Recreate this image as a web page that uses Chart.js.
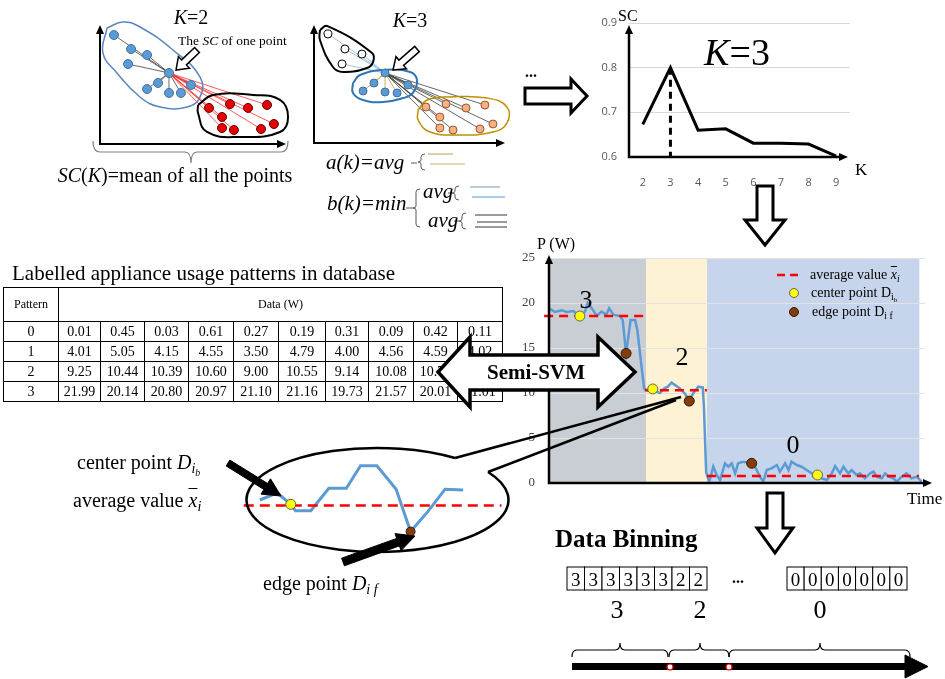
<!DOCTYPE html>
<html>
<head>
<meta charset="utf-8">
<script src="https://cdn.jsdelivr.net/npm/chart.js@4.4.1/dist/chart.umd.min.js"></script>
<style>
body{margin:0;background:#fff;}
#stage{position:relative;width:945px;height:679px;overflow:hidden;font-family:'Liberation Serif',serif;color:#000;background:#fff;}
canvas{position:absolute;}
.t{position:absolute;white-space:nowrap;line-height:1;}
.t sub{font-size:70%;vertical-align:-0.3em;line-height:0;}
.ov{text-decoration:overline;text-decoration-thickness:1px;text-underline-offset:0;}
table{position:absolute;border-collapse:collapse;table-layout:fixed;font-family:'Liberation Serif',serif;font-size:14px;}
td{border:1px solid #000;text-align:center;padding:0;}
svg{position:absolute;left:0;top:0;}
</style>
</head>
<body>
<div id="stage">
  <canvas id="k2" width="225" height="150" style="left:80px;top:5px"></canvas>
  <canvas id="k3" width="225" height="150" style="left:294px;top:5px"></canvas>
  <canvas id="sc" width="365" height="200" style="left:580px;top:0px"></canvas>
  <canvas id="pw" width="445" height="275" style="left:500px;top:235px"></canvas>
  <canvas id="inset" width="290" height="120" style="left:230px;top:440px"></canvas>
  <table id="tbl" style="left:3px;top:287px;width:499px"></table>
  <svg id="ov" width="945" height="679"></svg>
</div>
<script>
// ---- silhouette coefficient vs K
const scK = ['2', '3', '4', '5', '6', '7', '8', '9'];
const scValues = [0.673, 0.80, 0.66, 0.663, 0.631, 0.631, 0.629, 0.602];
const scBest = '3';

// ---- power trace (time in % of window, power in W)
const pTime = [0,1.6,3.4,4.7,6.5,8.2,9.6,10.3,11.4,12.7,14.0,15.2,16.0,17.1,18.9,19.6,20.5,21.7,22.9,23.5,
  24.7,25.3,26.4,27.6,28.6,29.5,30.6,31.6,32.6,33.8,34.8,36.2,37.3,38.4,39.7,40.9,41.2,41.8,42.6,43.7,
  44.6,45.5,46.8,47.7,48.6,49.5,50.3,51.7,53.9,54.8,56.1,57.0,57.9,59.2,60.6,61.4,62.8,63.7,64.5,65.9,
  67.2,68.5,69.9,71.4,72.5,73.9,75.2,76.1,77.4,78.3,79.6,80.5,81.8,82.7,84.0,85.4,86.3,87.2,88.5,89.4,
  90.3,91.6,92.5,93.8,95.1,96.4,97.8,99.1];
const pPower = [19.4,19.0,19.2,19.0,19.1,18.55,19.05,20.0,19.4,18.6,19.05,18.7,19.4,18.7,18.55,18.1,14.4,18.1,18.1,17.0,
  12.6,10.5,10.25,10.45,10.15,10.0,10.5,10.7,11.15,10.8,10.5,9.9,9.1,10.0,10.7,10.6,8.5,1.2,0.15,1.81,
  0.89,0.33,2.19,1.81,2.19,1.07,2.19,2.37,2.19,1.81,0.70,0.15,1.44,1.63,2.0,1.26,2.19,1.44,2.37,2.0,
  1.81,1.44,1.07,0.89,0.52,0.33,1.07,1.89,1.07,1.81,1.07,1.44,0.89,1.07,0.52,1.07,1.26,0.70,0.52,1.07,
  0.70,0.52,0.15,0.70,1.07,0.52,0.70,0.15];
const centerTime = [8.2, 27.6, 71.4];
const centerPower = [18.55, 10.45, 0.89];
const edgeTime = [20.5, 37.3, 53.9];
const edgePower = [14.4, 9.1, 2.19];
const avgStart = [-1.3, 25.5, 42.0];
const avgEnd = [25.3, 42.0, 98.4];
const avgLevel = [18.55, 10.3, 0.78];
const regionEdges = [0, 25.8, 42.0, 98.5];
const regionColors = ['#c9cdd4', '#fdf3d4', '#c6d5eb'];
const regionLabels = ['3', '2', '0'];

// ---- clustering sketches (arbitrary 0-100 units)
const k2BlueX = [7.5,16.7,25.3,15.1,37.1,31.2,25.3,37.1,43.5,48.9];
const k2BlueY = [91.6,79.8,74.8,67.2,59.7,51.3,46.2,42.9,42.9,49.6];
const k2RedX = [58.6,69.9,79.6,89.8,65.6,65.6,72.0,86.6,93.5];
const k2RedY = [30.3,33.6,30.3,32.8,22.7,13.4,11.8,12.6,16.8];
const k2BlueHullX = [3.8,12.4,21.5,39.2,53.8,53.8,46.8,32.3,21.5,9.1,1.6];
const k2BlueHullY = [97.5,102.5,98.3,79.0,56.3,39.5,31.1,31.1,39.5,59.7,76.5];
const k2RedHullX = [52.7,60.8,82.3,96.8,101.1,96.8,75.3,57.5,52.7];
const k2RedHullY = [32.8,41.2,41.2,37.0,22.7,10.1,5.9,10.1,26.1];

const k3WhiteX = [7.3,16.2,25.1,14.7];
const k3WhiteY = [92.4,79.7,75.4,67.0];
const k3BlueX = [37.2,31.4,25.7,37.2,43.5,49.2];
const k3BlueY = [59.3,50.8,44.1,43.2,42.4,49.2];
const k3OrangeX = [58.6,69.1,79.6,89.5,65.9,65.9,72.8,86.9,93.7];
const k3OrangeY = [30.5,33.1,29.7,32.2,22.0,12.7,11.0,11.9,16.1];
const k3WhiteHullX = [3.1,6.8,30.4,30.9,27.7,15.2,9.9,3.1];
const k3WhiteHullY = [95.8,99.2,76.3,68.6,63.6,60.2,64.4,87.3];
const k3BlueHullX = [20.4,24.1,36.1,50.3,53.9,51.8,46.6,36.1,25.7,20.4];
const k3BlueHullY = [50.8,57.6,61.9,60.2,53.4,42.4,38.1,34.7,36.4,42.4];
const k3OrangeHullX = [54.5,59.2,71.2,90.6,101,101,93.7,74.9,60.7,54.5];
const k3OrangeHullY = [28.0,36.4,39.0,38.1,30.5,16.9,9.3,6.8,9.3,19.5];

// ---- magnified piece of the trace
const insetX = [8.6,14.8,19.7,21.4,26.9,33.4,39.7,44.8,50.7,57.6,62.8,69,75.2,81.7];
const insetY = [50,56.7,46,40,40,60.8,60.8,81.7,81.7,60,20.8,39.2,60,59.2];
const insetAvg = 45;
const insetCenter = 2, insetEdge = 10;

// ---- table + binning
const tablePatterns = [0, 1, 2, 3];
const tableData = [
  [0.01,0.45,0.03,0.61,0.27,0.19,0.31,0.09,0.42,0.11],
  [4.01,5.05,4.15,4.55,3.50,4.79,4.00,4.56,4.59,4.02],
  [9.25,10.44,10.39,10.60,9.00,10.55,9.14,10.08,10.78,10.21],
  [21.99,20.14,20.80,20.97,21.10,21.16,19.73,21.57,20.01,21.01]];
const binsHead = [3,3,3,3,3,3,2,2];
const binsTail = [0,0,0,0,0,0,0];

const stage = document.getElementById('stage');
const zip = (xs, ys) => xs.map((x, i) => ({x: x, y: ys[i]}));
const loop = (xs, ys) => { const p = zip(xs, ys); p.push(p[0]); return p; };

// arrowed axes along the chart area
function axesPlugin(extTop, extRight, width) {
  return {
    id: 'axes',
    afterDraw(chart) {
      const a = chart.chartArea, c = chart.ctx;
      const top = a.top - extTop, right = a.right + extRight;
      c.save();
      c.strokeStyle = '#000'; c.fillStyle = '#000'; c.lineWidth = width;
      c.beginPath();
      c.moveTo(a.left, top + 6); c.lineTo(a.left, a.bottom); c.lineTo(right - 6, a.bottom);
      c.stroke();
      c.beginPath(); c.moveTo(a.left, top); c.lineTo(a.left - 4, top + 9); c.lineTo(a.left + 4, top + 9); c.fill();
      c.beginPath(); c.moveTo(right, a.bottom); c.lineTo(right - 9, a.bottom - 4); c.lineTo(right - 9, a.bottom + 4); c.fill();
      c.restore();
    }
  };
}

// lines from the chosen point to the others
function spokes(from, groups) {
  return {
    id: 'spokes',
    beforeDatasetsDraw(chart) {
      const xs = chart.scales.x, ys = chart.scales.y, c = chart.ctx;
      const fx = xs.getPixelForValue(from.x), fy = ys.getPixelForValue(from.y);
      c.save();
      groups.forEach(g => {
        c.strokeStyle = g.color; c.lineWidth = g.width;
        g.pts.forEach(p => {
          c.beginPath(); c.moveTo(fx, fy);
          c.lineTo(xs.getPixelForValue(p.x), ys.getPixelForValue(p.y)); c.stroke();
        });
      });
      c.restore();
    }
  };
}

function sketchScales() {
  return {
    x: {type: 'linear', min: 0, max: 100, display: false},
    y: {type: 'linear', min: 0, max: 100, display: false}
  };
}
function hull(pts, color, w) {
  return {type: 'line', data: pts, showLine: true, borderColor: color, borderWidth: w,
    pointRadius: 0, tension: 0.45, fill: false, clip: false};
}
function dots(pts, bg, border, r) {
  return {type: 'scatter', data: pts, backgroundColor: bg, borderColor: border,
    borderWidth: 1, pointRadius: r, clip: false};
}
const common = {responsive: false, animation: false, events: [],
  plugins: {legend: {display: false}, tooltip: {enabled: false}}};

// K = 2 sketch
const k2Blue = zip(k2BlueX, k2BlueY), k2Red = zip(k2RedX, k2RedY);
new Chart(document.getElementById('k2'), {
  type: 'scatter',
  data: {datasets: [
    dots(k2Blue, '#5b9bd5', '#41719c', 4.5),
    dots(k2Red, '#e60000', '#600000', 4.5),
    hull(loop(k2BlueHullX, k2BlueHullY), '#5a87c0', 1.5),
    hull(loop(k2RedHullX, k2RedHullY), '#000', 2)
  ]},
  options: Object.assign({}, common, {
    layout: {padding: {left: 20, top: 20, right: 19, bottom: 11}},
    scales: sketchScales()
  }),
  plugins: [axesPlugin(0, 0, 2), spokes(k2Blue[4], [
    {pts: k2Blue, color: '#404040', width: 0.8},
    {pts: k2Red, color: '#ff3030', width: 0.8}])]
});

// K = 3 sketch
const k3White = zip(k3WhiteX, k3WhiteY), k3Blue = zip(k3BlueX, k3BlueY), k3Orange = zip(k3OrangeX, k3OrangeY);
new Chart(document.getElementById('k3'), {
  type: 'scatter',
  data: {datasets: [
    dots(k3White, '#fff', '#000', 4),
    dots(k3Blue, '#5b9bd5', '#41719c', 4),
    dots(k3Orange, '#f4b183', '#a0522d', 4),
    hull(loop(k3WhiteHullX, k3WhiteHullY), '#000', 2),
    hull(loop(k3BlueHullX, k3BlueHullY), '#2e75b6', 2),
    hull(loop(k3OrangeHullX, k3OrangeHullY), '#bf9000', 1.5)
  ]},
  options: Object.assign({}, common, {
    layout: {padding: {left: 20, top: 20, right: 14, bottom: 12}},
    scales: sketchScales()
  }),
  plugins: [axesPlugin(0, 0, 2), spokes(k3Blue[0], [
    {pts: k3White, color: '#9dc3e6', width: 1},
    {pts: k3Blue, color: '#d0ae5a', width: 1},
    {pts: k3Orange, color: '#404040', width: 0.8}])]
});

// SC(K) curve
new Chart(document.getElementById('sc'), {
  type: 'line',
  data: {labels: scK, datasets: [
    {data: scValues, borderColor: '#000', borderWidth: 3, pointRadius: 0, tension: 0},
    {data: [{x: scBest, y: scValues[scK.indexOf(scBest)]}, {x: scBest, y: 0.6}],
     borderColor: '#000', borderWidth: 3, borderDash: [7, 5], pointRadius: 0}
  ]},
  options: Object.assign({}, common, {
    layout: {padding: {left: 0, top: 23, right: 95, bottom: 0}},
    scales: {
      x: {type: 'category', offset: true, grid: {display: false}, border: {display: false},
          afterFit: s => { s.height = 43; },
          ticks: {padding: 11, color: '#595959', font: {family: 'Open Sans', size: 11}}},
      y: {min: 0.6, max: 0.9, afterFit: s => { s.width = 49; },
          border: {display: false},
          grid: {drawTicks: false, color: c => c.tick && c.tick.value < 0.65 ? 'rgba(0,0,0,0)' : '#d9d9d9'},
          ticks: {stepSize: 0.1, padding: 12, color: '#595959', font: {family: 'Open Sans', size: 11},
                  callback: v => v.toFixed(1)}}
    }
  }),
  plugins: [axesPlugin(-2, -2, 2.5)]
});

// power trace with pattern regions
const regions = {
  id: 'regions',
  beforeDraw(chart) {
    const xs = chart.scales.x, ys = chart.scales.y, c = chart.ctx;
    c.save();
    regionColors.forEach((col, i) => {
      const l = xs.getPixelForValue(regionEdges[i]), r = xs.getPixelForValue(regionEdges[i + 1]);
      const t = ys.getPixelForValue(25), b = ys.getPixelForValue(0);
      c.fillStyle = col; c.fillRect(l, t, r - l, b - t);
    });
    c.restore();
  }
};
const avgSets = avgLevel.map((v, i) => ({
  data: [{x: avgStart[i], y: v}, {x: avgEnd[i], y: v}], borderColor: '#ff0000', borderWidth: 2.5,
  borderDash: [9, 6], pointRadius: 0, clip: false
}));
new Chart(document.getElementById('pw'), {
  type: 'line',
  data: {datasets: [
    {type: 'scatter', data: zip(centerTime, centerPower), backgroundColor: '#ffff00', borderColor: '#666',
     borderWidth: 1, pointRadius: 5},
    {type: 'scatter', data: zip(edgeTime, edgePower), backgroundColor: '#843c0c', borderColor: '#3a1a05',
     borderWidth: 1, pointRadius: 5},
    ...avgSets,
    {data: zip(pTime, pPower), borderColor: '#5b9bd5', borderWidth: 2.5, pointRadius: 0, tension: 0}
  ]},
  options: Object.assign({}, common, {
    layout: {padding: {left: 0, top: 23, right: 20, bottom: 27}},
    scales: {
      x: {type: 'linear', min: 0, max: 100, display: false},
      y: {min: 0, max: 25, afterFit: s => { s.width = 49; }, border: {display: false},
          grid: {drawTicks: false, color: '#e2e2e2'},
          ticks: {stepSize: 5, padding: 14, color: '#404040', font: {family: 'Liberation Serif', size: 13}}}
    }
  }),
  plugins: [regions, axesPlugin(3, 7, 2.5)]
});

// magnified trace inside the ellipse
new Chart(document.getElementById('inset'), {
  type: 'line',
  data: {datasets: [
    {type: 'scatter', data: [{x: insetX[insetCenter], y: insetY[insetCenter]}], backgroundColor: '#ffff00',
     borderColor: '#555', borderWidth: 1, pointRadius: 5},
    {type: 'scatter', data: [{x: insetX[insetEdge], y: insetY[insetEdge]}], backgroundColor: '#843c0c',
     borderColor: '#3a1a05', borderWidth: 1, pointRadius: 4.5},
    {data: [{x: 2.8, y: insetAvg}, {x: 95.5, y: insetAvg}], borderColor: '#ff0000', borderWidth: 2.5,
     borderDash: [10, 6], pointRadius: 0},
    {data: zip(insetX, insetY), borderColor: '#5b9bd5', borderWidth: 3, pointRadius: 0, tension: 0}
  ]},
  options: Object.assign({}, common, {scales: sketchScales()})
});

// table
const tbl = document.getElementById('tbl');
const colW = [55, 42, 44, 44, 45, 45, 47, 43, 45, 44, 45];
let html = '<colgroup>' + colW.map(w => `<col style="width:${w}px">`).join('') + '</colgroup>';
html += '<tr style="height:34px;font-size:12px"><td>Pattern</td><td colspan="10">Data (W)</td></tr>';
tablePatterns.forEach((p, i) => {
  html += `<tr style="height:20px"><td>${p}</td>` + tableData[i].map(v => `<td>${v.toFixed(2)}</td>`).join('') + '</tr>';
});
tbl.innerHTML = html;

// overlay shapes
const ov = document.getElementById('ov');
let svg = '';
function arrowPts(x0, y0, x1, y1, w, h, L) {
  const dx = x1 - x0, dy = y1 - y0, len = Math.hypot(dx, dy), ux = dx / len, uy = dy / len, nx = -uy, ny = ux;
  const bx = x1 - ux * L, by = y1 - uy * L;
  return [[x0 + nx * w, y0 + ny * w], [bx + nx * w, by + ny * w], [bx + nx * h, by + ny * h], [x1, y1],
    [bx - nx * h, by - ny * h], [bx - nx * w, by - ny * w], [x0 - nx * w, y0 - ny * w]];
}
function poly(pts, fill, stroke, sw) {
  svg += `<polygon points="${pts.map(p => p[0].toFixed(1) + ',' + p[1].toFixed(1)).join(' ')}" fill="${fill}" stroke="${stroke}" stroke-width="${sw}" stroke-linejoin="miter"/>`;
}
function line(x1, y1, x2, y2, col, w, dash) {
  svg += `<line x1="${x1}" y1="${y1}" x2="${x2}" y2="${y2}" stroke="${col}" stroke-width="${w}"${dash ? ` stroke-dasharray="${dash}"` : ''}/>`;
}
function path(d, col, w) { svg += `<path d="${d}" fill="none" stroke="${col}" stroke-width="${w}"/>`; }
function curly(x, y0, y1) {
  const m = (y0 + y1) / 2;
  path(`M${x + 4},${y0} Q${x},${y0} ${x},${y0 + 3} L${x},${m - 2} Q${x},${m} ${x - 3},${m} Q${x},${m} ${x},${m + 2} L${x},${y1 - 3} Q${x},${y1} ${x + 4},${y1}`, '#595959', 1);
}
function brace(x1, x2, xt, yTip, yMid, yEnd, col, w) {
  path(`M${x1},${yEnd} Q${x1},${yMid} ${x1 + 5},${yMid} L${xt - 5},${yMid} Q${xt},${yMid} ${xt},${yTip} Q${xt},${yMid} ${xt + 5},${yMid} L${x2 - 5},${yMid} Q${x2},${yMid} ${x2},${yEnd}`, col, w);
}

// hollow arrows
poly(arrowPts(197, 50, 176, 70, 3.5, 8, 11), '#fff', '#000', 1.5);
poly(arrowPts(417, 49, 393, 70, 3.5, 8, 11), '#fff', '#000', 1.5);
poly(arrowPts(525, 96, 587, 96, 8, 17, 16), '#fff', '#000', 3);
poly(arrowPts(765, 186, 765, 245, 8, 20, 25), '#fff', '#000', 3);
poly(arrowPts(775, 493, 775, 553, 8, 18, 25), '#fff', '#000', 3);
poly([[438, 372], [470, 337], [470, 355], [598, 355], [598, 337], [635, 372], [598, 407], [598, 390], [470, 390], [470, 407]], '#fff', '#000', 3.5);
// solid arrows
poly(arrowPts(228, 463, 281, 496, 3.5, 9, 18), '#000', '#000', 1);
poly(arrowPts(343, 562, 415, 536, 4, 9, 18), '#000', '#000', 1);

// brace under K=2 sketch
path('M93,141 Q93,152 100,152 L185,152 Q191,152 191,163 Q191,152 197,152 L281,152 Q288,152 288,141', '#808080', 1.2);

// formula braces and strokes
line(411, 163, 417, 163, '#595959', 1); curly(421, 154, 170);
line(428, 154, 453, 154, '#c9b06b', 1.2); line(430, 164, 465, 164, '#c9b06b', 1.2);
line(406, 208, 413, 208, '#595959', 1); curly(416, 189, 227);
line(448, 193, 452, 193, '#595959', 1); curly(455, 186, 200);
line(470, 187, 500, 187, '#8ea9c8', 1.2); line(472, 197, 505, 197, '#5b9bd5', 1.2);
line(454, 221, 459, 221, '#595959', 1); curly(462, 213, 229);
line(475, 215, 507, 215, '#595959', 1.2); line(477, 222, 507, 222, '#595959', 1.2); line(475, 227, 507, 227, '#595959', 1.2);

// ellipse with callout
path('M488,472 A131,52 0 1 1 455,458', '#000', 2.5);
line(455, 458, 681, 397, '#000', 2.5);
line(488, 472, 676, 400, '#000', 2.5);

// legend swatches in the power chart
line(777, 275, 803, 275, '#ff0000', 2.5, '8,5');
svg += '<circle cx="794" cy="293" r="4.5" fill="#ffff00" stroke="#666" stroke-width="1"/>';
svg += '<circle cx="794" cy="312" r="4.5" fill="#843c0c" stroke="#3a1a05" stroke-width="1"/>';

// binning cells
const headW = 140 / binsHead.length, tailW = 120 / binsTail.length;
binsHead.forEach((b, i) => { svg += `<rect x="${567 + i * headW}" y="567" width="${headW}" height="23" fill="#fff" stroke="#000" stroke-width="1"/>`; });
binsTail.forEach((b, i) => { svg += `<rect x="${787 + i * tailW}" y="567" width="${tailW}" height="23" fill="#fff" stroke="#000" stroke-width="1"/>`; });
brace(572, 668, 620, 643, 650, 657, '#000', 1.2);
brace(669, 729, 700, 643, 650, 657, '#000', 1.2);
brace(729, 910, 820, 643, 650, 657, '#000', 1.2);
svg += '<rect x="572" y="663" width="337" height="7" fill="#000"/>';
poly([[905, 655], [928, 666.5], [905, 678]], '#000', '#000', 1);
svg += '<circle cx="670" cy="667" r="3" fill="#fff" stroke="#e00000" stroke-width="1.2"/>';
svg += '<circle cx="729" cy="667" r="3" fill="#fff" stroke="#e00000" stroke-width="1.2"/>';
ov.innerHTML = svg;

// text
function put(h, x, y, size, o) {
  o = o || {};
  const d = document.createElement('div');
  d.className = 't'; d.innerHTML = h;
  d.style.left = x + 'px'; d.style.top = y + 'px'; d.style.fontSize = size + 'px';
  const ax = o.align === 'c' ? '-50%' : (o.align === 'r' ? '-100%' : '0');
  d.style.transform = `translate(${ax},-50%)`;
  if (o.bold) d.style.fontWeight = 'bold';
  if (o.italic) d.style.fontStyle = 'italic';
  stage.appendChild(d);
}
const xbar = '<i><span class="ov">x</span><sub>i</sub></i>';
put('<i>K</i>=2', 191, 17, 20, {align: 'c'});
put('The <i>SC</i> of one point', 178, 41, 13.5);
put('<i>SC</i>(<i>K</i>)=mean of all the points', 175, 175, 20, {align: 'c'});
put('<i>K</i>=3', 410, 20, 20, {align: 'c'});
put('a(k)=avg', 326, 162, 21, {italic: true});
put('b(k)=min', 327, 203, 21, {italic: true});
put('avg', 423, 191, 21, {italic: true});
put('avg', 428, 220, 21, {italic: true});
put('...', 531, 72, 16, {align: 'c', bold: true});
put('SC', 618, 16, 16);
put('<i>K</i>=3', 737, 52, 38, {align: 'c'});
put('K', 855, 169, 17);
put('P (W)', 537, 244, 16);
regionLabels.forEach((s, i) => put(s, [586, 682, 793][i], [300, 357, 445][i], 26, {align: 'c'}));
put('Time', 907, 498, 17);
put('average value ' + xbar, 810, 275, 14);
put('center point D<sub>i<sub>b</sub></sub>', 811, 293, 14);
put('edge point D<sub>i f</sub>', 812, 312, 14);
put('Labelled appliance usage patterns in database', 12, 273, 21);
put('Semi-SVM', 536, 372, 21, {align: 'c', bold: true});
put('center point <i>D</i><sub><i>i<sub>b</sub></i></sub>', 77, 463, 20);
put('average value ' + xbar, 73, 500, 20);
put('edge point <i>D</i><sub><i>i f</i></sub>', 263, 583, 20);
put('Data Binning', 555, 538, 25, {bold: true});
binsHead.forEach((b, i) => put(String(b), 567 + (i + 0.5) * headW, 579, 19, {align: 'c'}));
binsTail.forEach((b, i) => put(String(b), 787 + (i + 0.5) * tailW, 579, 19, {align: 'c'}));
put('...', 738, 578, 16, {align: 'c', bold: true});
['3', '2', '0'].forEach((s, i) => put(s, [617, 700, 820][i], 610, 26, {align: 'c'}));
</script>
</body>
</html>
